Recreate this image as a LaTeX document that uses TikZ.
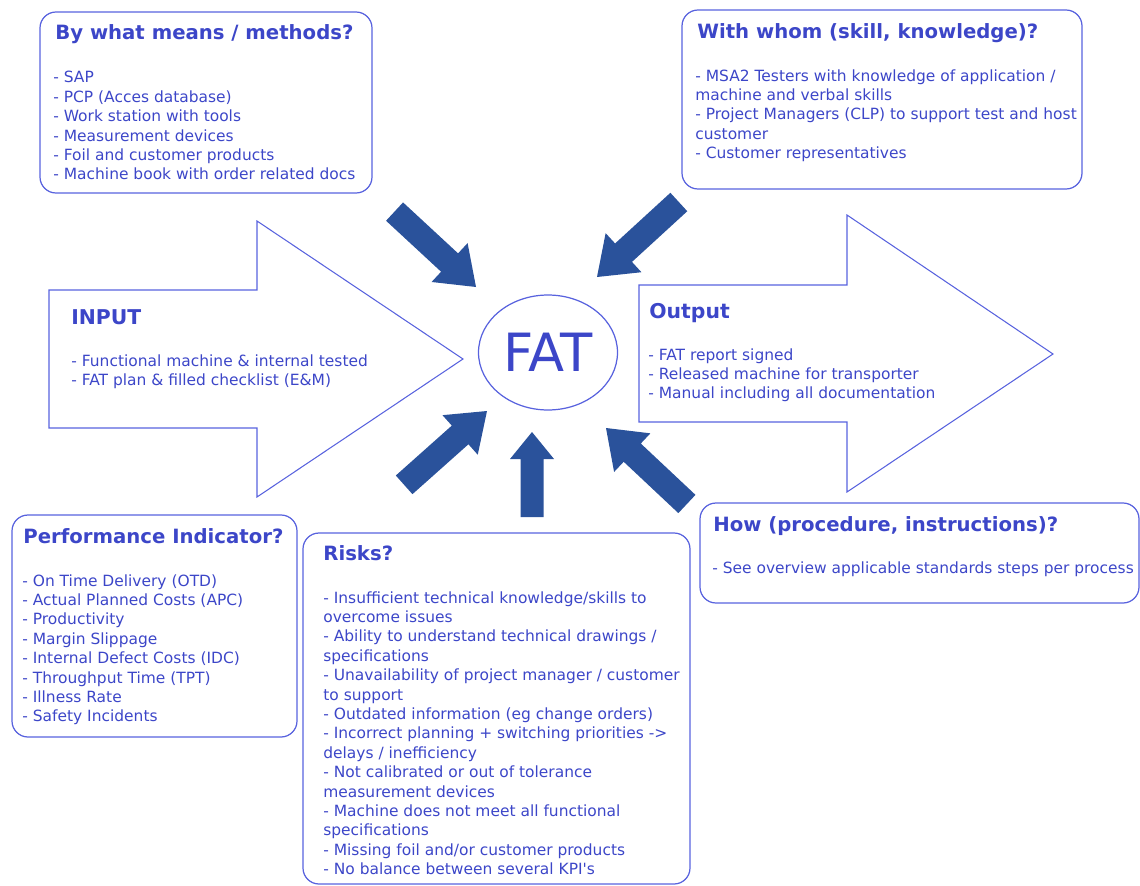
\documentclass[tikz,border=0pt]{standalone}
\usepackage{fontspec}
\setmainfont{DejaVu Sans}[Ligatures=TeXOff]
\usetikzlibrary{shapes.geometric}

\definecolor{arrowfill}{RGB}{42,82,155}
\definecolor{textblue}{RGB}{60,70,200}
\definecolor{lineblue}{RGB}{88,98,222}

% block arrow: tip, direction angle, length, shaft width, head width, head length
\newcommand{\blockarrow}[6]{%
  \fill[arrowfill, shift={#1}, rotate=#2]
    (0,0) -- (-#6,#5/2) -- (-#6,#4/2) -- (-#3,#4/2)
    -- (-#3,-#4/2) -- (-#6,-#4/2) -- (-#6,-#5/2) -- cycle;}

\tikzset{
  panel/.style={draw=lineblue, line width=0.7pt, rounded corners=0.32cm},
  bigarrow/.style={draw=lineblue, line width=0.6pt, line join=miter},
  heading/.style={anchor=base west, inner sep=0pt, text=textblue,
    font=\fontsize{11.2}{13}\selectfont\bfseries},
  bigheading/.style={heading, font=\fontsize{11.6}{13}\selectfont\bfseries},
  items/.style={anchor=north west, inner sep=0pt, text=textblue, align=left,
    font=\fontsize{8.8}{11.04}\selectfont},
}

\begin{document}
\begin{tikzpicture}[x=0.02cm, y=-0.02cm]
\useasboundingbox (0,0) rectangle (1140,886);

% input and output arrows
\draw[bigarrow] (49,290) -- (257,290) -- (257,221) -- (463,359)
  -- (257,497) -- (257,428) -- (49,428) -- cycle;
\draw[bigarrow] (639,285) -- (847,285) -- (847,215) -- (1053,354)
  -- (847,492) -- (847,422) -- (639,422) -- cycle;

% arrows converging on the centre
\blockarrow{(476,287)}{-42.8}{111}{25}{53}{36}
\blockarrow{(597,277)}{-137.5}{111}{25}{53}{36}
\blockarrow{(487,411)}{41.7}{111}{25}{53}{36}
\blockarrow{(532,432)}{90}{85}{23}{44}{27}
\blockarrow{(606,428)}{136.8}{111}{25}{53}{36}

% centre
\node[ellipse, draw=lineblue, line width=0.7pt, minimum width=2.78cm,
  minimum height=2.3cm, inner sep=0pt, text=textblue,
  font=\fontsize{30}{34}\selectfont] (fat) at (548,352.5) {FAT};

% panels
\draw[panel] (40,12) rectangle (372,193);
\draw[panel] (682,10) rectangle (1082,189);
\draw[panel] (12,515) rectangle (297,737);
\draw[panel] (303,533) rectangle (690,884);
\draw[panel] (700,503) rectangle (1139,603);

% means / methods
\node[heading] (meansT) at (55,39) {By what means / methods?};
\node[items] (meansL) at (53,71) {- SAP\\
- PCP (Acces database)\\
- Work station with tools\\
- Measurement devices\\
- Foil and customer products\\
- Machine book with order related docs};

% with whom
\node[heading] (whomT) at (697,38) {With whom (skill, knowledge)?};
\node[items] (whomL) at (695,69) {- MSA2 Testers with knowledge of application /\\
machine and verbal skills\\
- Project Managers (CLP) to support test and host\\
customer\\
- Customer representatives};

% input
\node[bigheading] (inT) at (71,324) {INPUT};
\node[items] (inL) at (71,354) {- Functional machine \& internal tested\\
- FAT plan \& filled checklist (E\&M)};

% output
\node[bigheading] (outT) at (649,318) {Output};
\node[items] (outL) at (648,348) {- FAT report signed\\
- Released machine for transporter\\
- Manual including all documentation};

% how
\node[heading] (howT) at (713,531) {How (procedure, instructions)?};
\node[items] (howL) at (712,561) {- See overview applicable standards steps per process};

% performance indicators
\node[heading] (kpiT) at (23,543) {Performance Indicator?};
\node[items] (kpiL) at (22,574) {- On Time Delivery (OTD)\\
- Actual Planned Costs (APC)\\
- Productivity\\
- Margin Slippage\\
- Internal Defect Costs (IDC)\\
- Throughput Time (TPT)\\
- Illness Rate\\
- Safety Incidents};

% risks
\node[heading] (riskT) at (323,560) {Risks?};
\node[items] (riskL) at (323,591) {- Insufficient technical knowledge/skills to\\
overcome issues\\
- Ability to understand technical drawings /\\
specifications\\
- Unavailability of project manager / customer\\
to support\\
- Outdated information (eg change orders)\\
- Incorrect planning + switching priorities ->\\
delays / inefficiency\\
- Not calibrated or out of tolerance\\
measurement devices\\
- Machine does not meet all functional\\
specifications\\
- Missing foil and/or customer products\\
- No balance between several KPI's};

\end{tikzpicture}
\end{document}
